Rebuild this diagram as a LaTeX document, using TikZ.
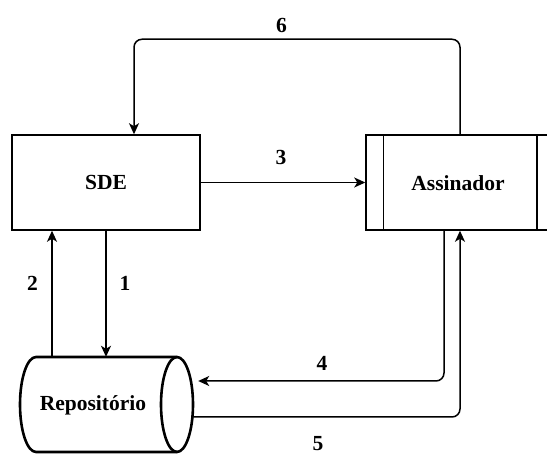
\documentclass[tikz,border=0pt]{standalone}
\usepackage{fontspec}
\setmainfont{Liberation Serif}
\newfontfamily\tnr{Liberation Serif}
\usetikzlibrary{arrows.meta,calc}
\begin{document}
\begin{tikzpicture}[x=1pt,y=1pt,
  box/.style={draw, line width=1.5pt, minimum width=188pt, minimum height=95pt, inner sep=0pt},
  lbl/.style={font=\tnr\fontsize{21.5}{24}\selectfont\bfseries, inner sep=0pt},
  arr/.style={line width=1.5pt, -{Stealth[length=11pt,width=10pt,inset=3pt]}},
  con/.style={line width=1.5pt}]
\clip (0,0) rectangle (547,-454);
\fill[white] (0,0) rectangle (547,-454);
% nodes
\node[box] (sde) at (106,-182.5) {};
\node[lbl] (sdel) at (sde.center) {SDE};
\node[box] (asn) at (460,-182.5) {};
\draw[con] ([xshift=18]asn.north west) -- ([xshift=18]asn.south west);
\draw[con] ([xshift=-18]asn.north east) -- ([xshift=-18]asn.south east);
\node[lbl] (asnl) at (458,-183) {Assinador};
\node[minimum width=173pt, minimum height=95pt, inner sep=0pt] (repo) at (106.5,-404.5) {};
\draw[line width=2.6pt, fill=white] (36,-357) -- (177,-357)
  arc[start angle=90, end angle=-90, x radius=16, y radius=47.5]
  -- (36,-452) arc[start angle=270, end angle=90, x radius=16, y radius=47.5] -- cycle;
\draw[line width=2.6pt] (177,-357) arc[start angle=90, end angle=270, x radius=16, y radius=47.5];
\node[lbl] (repol) at (93,-405) {Repositório};
% connectors
\draw[arr, rounded corners=8pt] (asn.north) -- ++(0,95) -| ([xshift=28]sde.north);
\draw[arr] (sde.east) -- (asn.west);
\draw[arr] (sde.south) -- (sde.south |- repo.north);
\draw[arr] ([xshift=-54]sde.south |- repo.north) -- ([xshift=-54]sde.south);
\draw[arr, rounded corners=8pt] ([xshift=-16]asn.south) |- ([xshift=5,yshift=23.5]repo.east);
\draw[arr, rounded corners=8pt] ([yshift=-12.5]repo.east) -| (asn.south);
% labels
\node[lbl] (l6) at (281.5,-25) {6};
\node[lbl] (l3) at (281,-157) {3};
\node[lbl] (l1) at (125,-283) {1};
\node[lbl] (l2) at (32.5,-283) {2};
\node[lbl] (l4) at (322,-363) {4};
\node[lbl] (l5) at (318,-444) {5};
\end{tikzpicture}
\end{document}
